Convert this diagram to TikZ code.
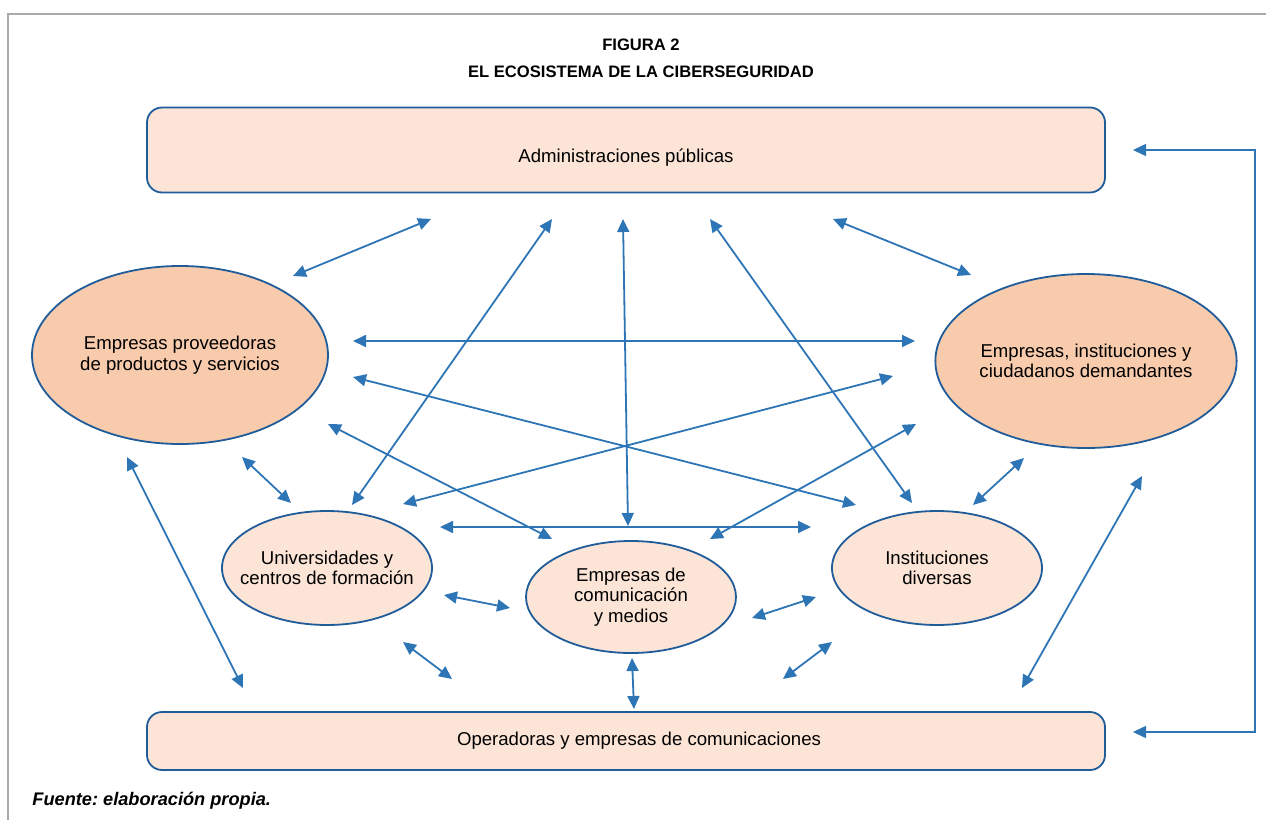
\documentclass[tikz,border=0pt]{standalone}
\usepackage{fontspec}
\setmainfont{Liberation Sans}
\frenchspacing
\usetikzlibrary{shapes.geometric, arrows.meta, positioning}
\definecolor{peach}{RGB}{252,228,214}
\definecolor{salmon}{RGB}{248,203,173}
\definecolor{edgeblue}{RGB}{31,92,153}
\definecolor{linkblue}{RGB}{46,117,182}
\definecolor{framegray}{RGB}{170,170,170}
\tikzset{
	box/.style={draw=edgeblue, line width=0.9pt, fill=peach, rounded corners=7.5pt, minimum width=479pt, inner sep=0pt},
	actor/.style={ellipse, draw=edgeblue, line width=0.9pt, fill=peach, inner sep=0pt, align=center},
	link/.style={draw=linkblue, line width=0.9pt, {Triangle[length=6.5pt,width=6pt]}-{Triangle[length=6.5pt,width=6pt]}}
}
\newcommand{\biarrow}[4]{
	\coordinate (#1-#2) at #3;
	\coordinate (#2-#1) at #4;
	\draw[link] (#1-#2) -- (#2-#1);
}

\begin{document}
\begin{tikzpicture}[x=0.5pt, y=-0.5pt, font=\fontsize{9.3}{10.3}\selectfont]
				\useasboundingbox (0,0) rectangle (1266,820);
				\draw[framegray, line width=0.75pt] (8,820) -- (8,14) -- (1266,14);
				\node[font=\fontsize{8.3}{13.5}\selectfont\bfseries, align=center] (title) at (641,58) {FIGURA 2\\EL ECOSISTEMA DE LA CIBERSEGURIDAD};
				% boxes
				\node[box, minimum height=42.5pt, text height=14pt, text depth=2pt] (adm) at (626,150) {Administraciones públicas};
				\node[box, minimum height=29pt] (ope) at (626,741) {\hspace*{13pt}Operadoras y empresas de comunicaciones};
				% actors
				\node[actor, fill=salmon, minimum width=148pt, minimum height=89pt] (prov) at (180,355) {Empresas proveedoras\\de productos y servicios};
				\node[actor, fill=salmon, minimum width=148pt, minimum height=87pt] (dem) at (1086,361) {Empresas, instituciones y\\ciudadanos demandantes};
				\node[actor, inner xsep=-6.5pt, minimum width=105pt, minimum height=57pt] (uni) at (327,568) {Universidades y\\centros de formación};
				\node[actor, minimum width=105pt, minimum height=56pt] (com) at (631,597) {Empresas de\\comunicación\\y medios};
				\node[actor, minimum width=105pt, minimum height=57pt] (ins) at (937,568) {Instituciones\\diversas};
				% links to the administrations
				\biarrow{prov}{adm}{(293,276)}{(431,219)}
				\biarrow{uni}{adm}{(352,505)}{(552,219)}
				\biarrow{com}{adm}{(628,526)}{(623,219)}
				\biarrow{ins}{adm}{(912,503)}{(710,219)}
				\biarrow{dem}{adm}{(971,275)}{(833,219)}
				% links across the middle
				\biarrow{prov}{dem}{(353,341)}{(915,341)}
				\biarrow{prov}{ins}{(353,377)}{(856,505)}
				\biarrow{uni}{dem}{(403,504)}{(893,376)}
				\biarrow{prov}{com}{(328,424)}{(552,539)}
				\biarrow{com}{dem}{(710,539)}{(916,424)}
				\biarrow{uni}{ins}{(440,527)}{(811,527)}
				\biarrow{prov}{uni}{(242,457)}{(291,503)}
				\biarrow{dem}{ins}{(1024,458)}{(973,505)}
				\biarrow{uni}{com}{(444,595)}{(510,608)}
				\biarrow{com}{ins}{(752,618)}{(816,597)}
				% links to the operators
				\biarrow{prov}{ope}{(127,457)}{(243,688)}
				\biarrow{dem}{ope}{(1142,476)}{(1022,688)}
				\biarrow{uni}{ope}{(403,642)}{(452,679)}
				\biarrow{ins}{ope}{(832,642)}{(783,679)}
				\biarrow{com}{ope}{(632,658)}{(634,709)}
				% feedback on the right
				\coordinate (adm-back) at (1133,150);
				\coordinate (ope-back) at (1133,732);
				\draw[link, line width=0.75pt] (adm-back) -- ++(122,0) |- (ope-back);
				\node[font=\fontsize{9.1}{11}\selectfont\bfseries\itshape, anchor=west, inner sep=0pt] (src) at (32,801) {Fuente: elaboración propia.};
			\end{tikzpicture}
\end{document}
